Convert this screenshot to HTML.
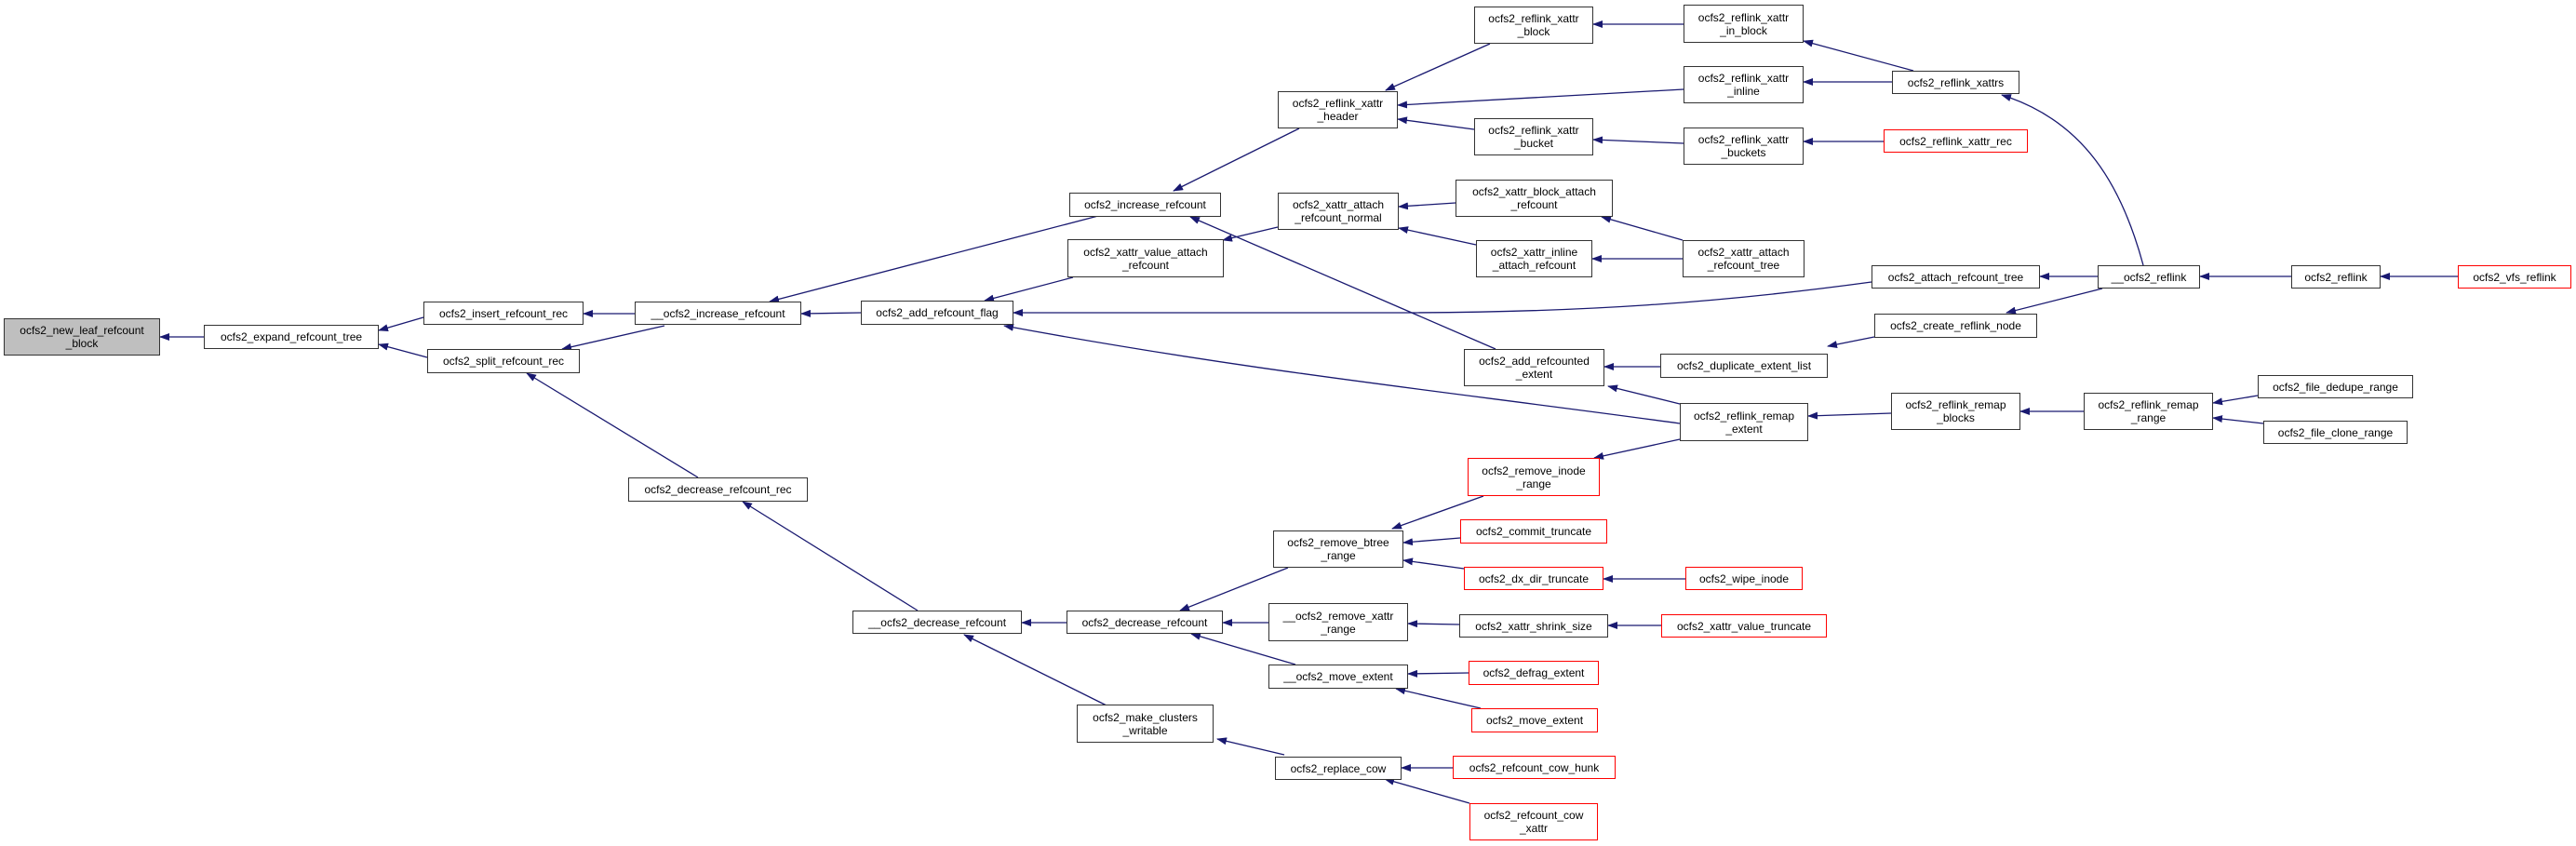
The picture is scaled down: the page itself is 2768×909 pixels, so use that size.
<!DOCTYPE html>
<html><head><meta charset="utf-8"><style>
body{margin:0;width:2768px;height:909px;background:#fff;position:relative;overflow:hidden}
.n{position:absolute;box-sizing:border-box;border:1.5px solid #333;background:#fff;display:flex;align-items:center;justify-content:center;text-align:center;font:12px/14px "Liberation Sans",sans-serif;color:#000;white-space:nowrap}
.r{border-color:#f00}
.g{background:#bfbfbf}
svg{position:absolute;left:0;top:0}
</style></head><body>
<svg width="2768" height="909">
<defs><marker id="a" markerWidth="11" markerHeight="8" refX="10" refY="4" orient="auto" markerUnits="userSpaceOnUse"><path d="M0,0 L11,4 L0,8 z" fill="#191970"/></marker></defs>
<g stroke="#191970" stroke-width="1.3" fill="none" marker-end="url(#a)">
<line x1="219" y1="362" x2="172" y2="362"/>
<line x1="455" y1="341" x2="407" y2="355"/>
<line x1="459" y1="384" x2="407" y2="370"/>
<line x1="682" y1="337" x2="627" y2="337"/>
<line x1="714" y1="350" x2="604" y2="375"/>
<line x1="750" y1="513" x2="566" y2="401"/>
<line x1="1180" y1="232" x2="827" y2="324"/>
<line x1="925" y1="336" x2="861" y2="337"/>
<line x1="1153" y1="298" x2="1058" y2="323"/>
<path d="M2011,303 C1850,325 1700,336 1500,336 L1089,336"/>
<path d="M1805,455 C1550,420 1350,400 1079,350"/>
<line x1="1396" y1="138" x2="1261" y2="205"/>
<line x1="1607" y1="375" x2="1279" y2="233"/>
<line x1="1373" y1="244" x2="1314" y2="258"/>
<line x1="1601" y1="47" x2="1489" y2="97"/>
<line x1="1809" y1="96" x2="1502" y2="113"/>
<line x1="1584" y1="139" x2="1502" y2="128"/>
<line x1="1809" y1="26" x2="1712" y2="26"/>
<line x1="1809" y1="154" x2="1712" y2="150"/>
<line x1="2056" y1="76" x2="1938" y2="44"/>
<line x1="2033" y1="88" x2="1938" y2="88"/>
<line x1="2024" y1="152" x2="1938" y2="152"/>
<path d="M2303,285 C2280,200 2240,130 2151,102"/>
<line x1="1564" y1="218" x2="1503" y2="222"/>
<line x1="1586" y1="263" x2="1503" y2="245"/>
<line x1="1808" y1="258" x2="1721" y2="233"/>
<line x1="1808" y1="278" x2="1711" y2="278"/>
<line x1="2254" y1="297" x2="2192" y2="297"/>
<line x1="2462" y1="297" x2="2364" y2="297"/>
<line x1="2641" y1="297" x2="2558" y2="297"/>
<line x1="1784" y1="394" x2="1724" y2="394"/>
<line x1="1805" y1="434" x2="1728" y2="415"/>
<line x1="2014" y1="362" x2="1964" y2="372"/>
<line x1="2259" y1="310" x2="2156" y2="336"/>
<line x1="2032" y1="444" x2="1943" y2="447"/>
<line x1="2239" y1="442" x2="2171" y2="442"/>
<line x1="2426" y1="425" x2="2378" y2="433"/>
<line x1="2432" y1="455" x2="2378" y2="449"/>
<line x1="1805" y1="472" x2="1713" y2="492"/>
<line x1="1594" y1="533" x2="1496" y2="568"/>
<line x1="1569" y1="578" x2="1508" y2="583"/>
<line x1="1573" y1="611" x2="1508" y2="602"/>
<line x1="1811" y1="622" x2="1723" y2="622"/>
<line x1="1384" y1="610" x2="1268" y2="656"/>
<line x1="1363" y1="669" x2="1314" y2="669"/>
<line x1="1392" y1="714" x2="1280" y2="681"/>
<line x1="1568" y1="671" x2="1513" y2="670"/>
<line x1="1785" y1="672" x2="1728" y2="672"/>
<line x1="1578" y1="723" x2="1513" y2="724"/>
<line x1="1591" y1="761" x2="1500" y2="740"/>
<line x1="1146" y1="669" x2="1098" y2="669"/>
<line x1="1189" y1="758" x2="1036" y2="682"/>
<line x1="986" y1="656" x2="798" y2="539"/>
<line x1="1380" y1="811" x2="1308" y2="794"/>
<line x1="1561" y1="825" x2="1506" y2="825"/>
<line x1="1579" y1="863" x2="1488" y2="837"/>
</g></svg>
<div class="n g" style="left:4px;top:342px;width:168px;height:40px">ocfs2_new_leaf_refcount<br>_block</div>
<div class="n" style="left:219px;top:349px;width:188px;height:26px">ocfs2_expand_refcount_tree</div>
<div class="n" style="left:455px;top:324px;width:172px;height:25px">ocfs2_insert_refcount_rec</div>
<div class="n" style="left:459px;top:375px;width:164px;height:26px">ocfs2_split_refcount_rec</div>
<div class="n" style="left:682px;top:324px;width:179px;height:25px">__ocfs2_increase_refcount</div>
<div class="n" style="left:675px;top:513px;width:193px;height:26px">ocfs2_decrease_refcount_rec</div>
<div class="n" style="left:1584px;top:7px;width:128px;height:40px">ocfs2_reflink_xattr<br>_block</div>
<div class="n" style="left:1809px;top:5px;width:129px;height:41px">ocfs2_reflink_xattr<br>_in_block</div>
<div class="n" style="left:1373px;top:98px;width:129px;height:40px">ocfs2_reflink_xattr<br>_header</div>
<div class="n" style="left:1809px;top:71px;width:129px;height:40px">ocfs2_reflink_xattr<br>_inline</div>
<div class="n" style="left:1584px;top:127px;width:128px;height:40px">ocfs2_reflink_xattr<br>_bucket</div>
<div class="n" style="left:1809px;top:137px;width:129px;height:40px">ocfs2_reflink_xattr<br>_buckets</div>
<div class="n" style="left:1149px;top:207px;width:163px;height:26px">ocfs2_increase_refcount</div>
<div class="n" style="left:1373px;top:207px;width:130px;height:40px">ocfs2_xattr_attach<br>_refcount_normal</div>
<div class="n" style="left:1564px;top:193px;width:169px;height:40px">ocfs2_xattr_block_attach<br>_refcount</div>
<div class="n" style="left:1147px;top:257px;width:168px;height:41px">ocfs2_xattr_value_attach<br>_refcount</div>
<div class="n" style="left:1586px;top:258px;width:125px;height:40px">ocfs2_xattr_inline<br>_attach_refcount</div>
<div class="n" style="left:1808px;top:258px;width:131px;height:40px">ocfs2_xattr_attach<br>_refcount_tree</div>
<div class="n" style="left:925px;top:323px;width:164px;height:26px">ocfs2_add_refcount_flag</div>
<div class="n" style="left:1573px;top:375px;width:151px;height:40px">ocfs2_add_refcounted<br>_extent</div>
<div class="n" style="left:1784px;top:380px;width:180px;height:26px">ocfs2_duplicate_extent_list</div>
<div class="n" style="left:1805px;top:433px;width:138px;height:41px">ocfs2_reflink_remap<br>_extent</div>
<div class="n" style="left:2033px;top:76px;width:137px;height:25px">ocfs2_reflink_xattrs</div>
<div class="n r" style="left:2024px;top:139px;width:155px;height:25px">ocfs2_reflink_xattr_rec</div>
<div class="n" style="left:2011px;top:285px;width:181px;height:25px">ocfs2_attach_refcount_tree</div>
<div class="n" style="left:2254px;top:285px;width:110px;height:25px">__ocfs2_reflink</div>
<div class="n" style="left:2462px;top:285px;width:96px;height:25px">ocfs2_reflink</div>
<div class="n r" style="left:2641px;top:285px;width:122px;height:25px">ocfs2_vfs_reflink</div>
<div class="n" style="left:2014px;top:337px;width:175px;height:26px">ocfs2_create_reflink_node</div>
<div class="n" style="left:2032px;top:422px;width:139px;height:40px">ocfs2_reflink_remap<br>_blocks</div>
<div class="n" style="left:2239px;top:422px;width:139px;height:40px">ocfs2_reflink_remap<br>_range</div>
<div class="n" style="left:2426px;top:403px;width:167px;height:25px">ocfs2_file_dedupe_range</div>
<div class="n" style="left:2432px;top:452px;width:155px;height:25px">ocfs2_file_clone_range</div>
<div class="n r" style="left:1577px;top:492px;width:142px;height:41px">ocfs2_remove_inode<br>_range</div>
<div class="n r" style="left:1569px;top:558px;width:158px;height:26px">ocfs2_commit_truncate</div>
<div class="n" style="left:1368px;top:570px;width:140px;height:40px">ocfs2_remove_btree<br>_range</div>
<div class="n r" style="left:1573px;top:609px;width:150px;height:25px">ocfs2_dx_dir_truncate</div>
<div class="n r" style="left:1811px;top:609px;width:126px;height:25px">ocfs2_wipe_inode</div>
<div class="n" style="left:916px;top:656px;width:182px;height:25px">__ocfs2_decrease_refcount</div>
<div class="n" style="left:1146px;top:656px;width:168px;height:25px">ocfs2_decrease_refcount</div>
<div class="n" style="left:1363px;top:648px;width:150px;height:41px">__ocfs2_remove_xattr<br>_range</div>
<div class="n" style="left:1568px;top:660px;width:160px;height:25px">ocfs2_xattr_shrink_size</div>
<div class="n r" style="left:1785px;top:660px;width:178px;height:25px">ocfs2_xattr_value_truncate</div>
<div class="n" style="left:1363px;top:714px;width:150px;height:26px">__ocfs2_move_extent</div>
<div class="n r" style="left:1578px;top:710px;width:140px;height:26px">ocfs2_defrag_extent</div>
<div class="n r" style="left:1581px;top:761px;width:136px;height:26px">ocfs2_move_extent</div>
<div class="n" style="left:1157px;top:757px;width:147px;height:41px">ocfs2_make_clusters<br>_writable</div>
<div class="n" style="left:1370px;top:813px;width:136px;height:25px">ocfs2_replace_cow</div>
<div class="n r" style="left:1561px;top:812px;width:175px;height:25px">ocfs2_refcount_cow_hunk</div>
<div class="n r" style="left:1579px;top:863px;width:138px;height:40px">ocfs2_refcount_cow<br>_xattr</div>
</body></html>
